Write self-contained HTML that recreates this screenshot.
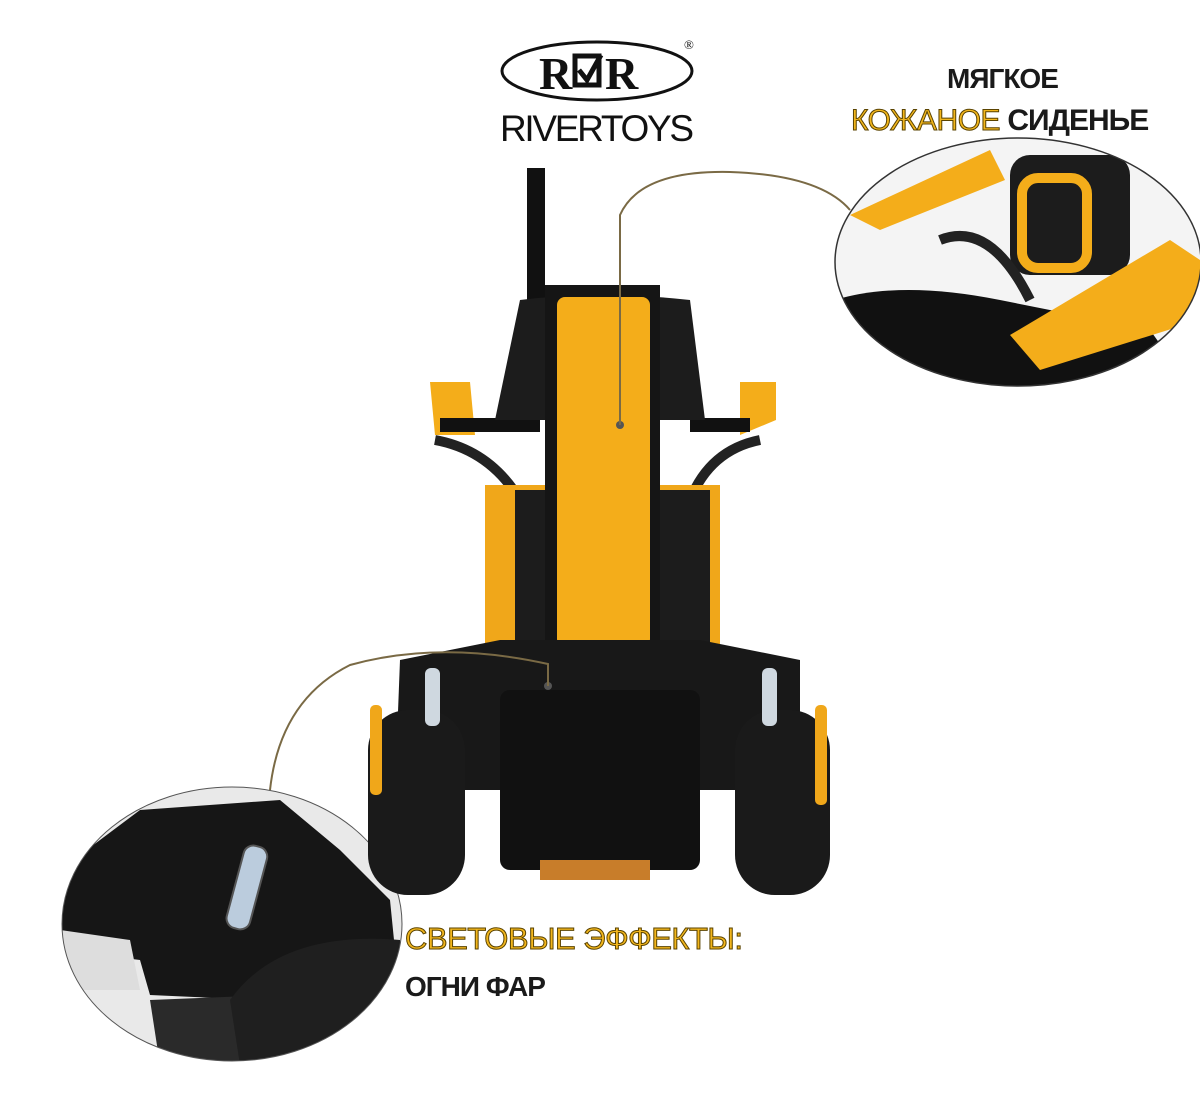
<!DOCTYPE html>
<html><head><meta charset="utf-8"><style>
body{margin:0;width:1200px;height:1111px;background:#fff;overflow:hidden;position:relative;font-family:"Liberation Sans","DejaVu Sans",sans-serif}
.t{position:absolute;font-size:28px;color:#1a1a1a;white-space:nowrap;letter-spacing:-1px;font-weight:bold}
.g{color:#f2b61c;-webkit-text-stroke:1px #5a4300;font-weight:normal;letter-spacing:-0.5px}
</style></head><body>
<svg width="1200" height="1111" style="position:absolute;left:0;top:0">
<ellipse cx="597" cy="71" rx="95" ry="29" fill="none" stroke="#111" stroke-width="3"/>
<text x="539" y="89" font-family="Liberation Serif" font-size="46" font-weight="bold" fill="#111">R</text>
<rect x="575" y="56" width="24" height="29" fill="none" stroke="#111" stroke-width="5"/>
<path d="M579 70 L587 80 L601 55" fill="none" stroke="#111" stroke-width="5"/>
<text x="605" y="89" font-family="Liberation Serif" font-size="46" font-weight="bold" fill="#111">R</text>
<text x="684" y="49" font-family="Liberation Serif" font-size="13" fill="#111">®</text>
<text x="500" y="141" font-size="37" fill="#111" textLength="194">RIVERTOYS</text>
<defs>
<clipPath id="c1"><ellipse cx="1018" cy="262" rx="183" ry="124"/></clipPath>
<clipPath id="c2"><ellipse cx="232" cy="924" rx="170" ry="137"/></clipPath>
</defs>
<g clip-path="url(#c1)">
<rect x="830" y="130" width="380" height="260" fill="#f4f4f4"/>
<path d="M835 300 Q900 280 1000 300 L1150 330 L1200 400 L835 400Z" fill="#111"/>
<path d="M850 215 L990 150 L1005 180 L880 230 Z" fill="#f4ad1a"/>
<rect x="1010" y="155" width="120" height="120" rx="20" fill="#1c1c1c"/>
<rect x="1022" y="178" width="65" height="90" rx="16" fill="none" stroke="#f4ad1a" stroke-width="10"/>
<path d="M1010 335 L1170 240 L1200 260 L1200 320 L1040 370 Z" fill="#f4ad1a"/>
<path d="M940 240 Q990 220 1030 300" fill="none" stroke="#222" stroke-width="10"/>
</g>
<ellipse cx="1018" cy="262" rx="183" ry="124" fill="none" stroke="#333" stroke-width="1.5"/>
<g clip-path="url(#c2)">
<rect x="60" y="785" width="345" height="280" fill="#e9e9e9"/>
<path d="M60 870 L140 810 L280 800 L340 850 L390 900 L400 1000 L260 1000 L150 995 L140 960 L60 950Z" fill="#161616"/>
<path d="M150 1000 L400 990 L400 1065 L160 1065Z" fill="#2a2a2a"/>
<path d="M230 1000 Q280 930 400 940 L400 1065 L240 1065Z" fill="#1f1f1f"/>
<path d="M60 930 L130 940 L140 990 L60 990Z" fill="#ddd"/>
<rect x="235" y="845" width="24" height="85" rx="10" transform="rotate(15 247 887)" fill="#bcd" stroke="#555" stroke-width="2"/>
</g>
<ellipse cx="232" cy="924" rx="170" ry="137" fill="none" stroke="#555" stroke-width="1"/>
<rect x="527" y="168" width="18" height="140" fill="#111"/>
<path d="M430 382 L470 382 L475 435 L435 435Z" fill="#f4ad1a"/>
<path d="M740 382 L776 382 L776 420 L740 435Z" fill="#f4ad1a"/>
<rect x="440" y="418" width="100" height="14" fill="#111"/>
<rect x="690" y="418" width="60" height="14" fill="#111"/>
<path d="M520 300 Q600 290 690 300 L705 420 L495 420Z" fill="#1c1c1c"/>
<path d="M435 440 Q490 450 520 500 L530 510" stroke="#222" stroke-width="10" fill="none"/>
<path d="M760 440 Q710 450 690 500" stroke="#222" stroke-width="10" fill="none"/>
<path d="M485 485 L720 485 L720 690 L485 690Z" fill="#f0a71a"/>
<rect x="515" y="490" width="40" height="170" fill="#1c1c1c"/>
<rect x="660" y="490" width="50" height="180" fill="#1c1c1c"/>
<rect x="545" y="285" width="115" height="380" fill="#151515"/>
<rect x="557" y="297" width="93" height="350" rx="8" fill="#f4ad1a"/>
<path d="M400 660 L500 640 L700 640 L800 660 L800 790 L395 790Z" fill="#181818"/>
<rect x="368" y="710" width="97" height="185" rx="40" fill="#1a1a1a"/>
<rect x="370" y="705" width="12" height="90" rx="5" fill="#f0a71a"/>
<rect x="735" y="710" width="95" height="185" rx="40" fill="#1a1a1a"/>
<rect x="815" y="705" width="12" height="100" rx="5" fill="#f0a71a"/>
<rect x="500" y="690" width="200" height="180" rx="10" fill="#111"/>
<rect x="540" y="860" width="110" height="20" fill="#c87d2a"/>
<rect x="425" y="668" width="15" height="58" rx="6" fill="#cfd8e0"/>
<rect x="762" y="668" width="15" height="58" rx="6" fill="#cfd8e0"/>
<circle cx="620" cy="425" r="4" fill="#555"/>
<path d="M620 425 L620 215 Q640 170 730 172 Q820 175 850 210" fill="none" stroke="#7a6a45" stroke-width="2"/>
<circle cx="548" cy="686" r="4" fill="#555"/>
<path d="M548 686 L548 664 Q440 640 350 665 Q280 700 270 790" fill="none" stroke="#7a6a45" stroke-width="2"/>
</svg>
<div class="t" style="left:947px;top:63px">МЯГКОЕ</div>
<div class="t" style="left:851px;top:104px;font-size:30px"><span class="g">КОЖАНОЕ</span> СИДЕНЬЕ</div>
<div class="t g" style="left:405px;top:921px;font-size:31px">СВЕТОВЫЕ ЭФФЕКТЫ:</div>
<div class="t" style="left:405px;top:971px">ОГНИ ФАР</div>
</body></html>
